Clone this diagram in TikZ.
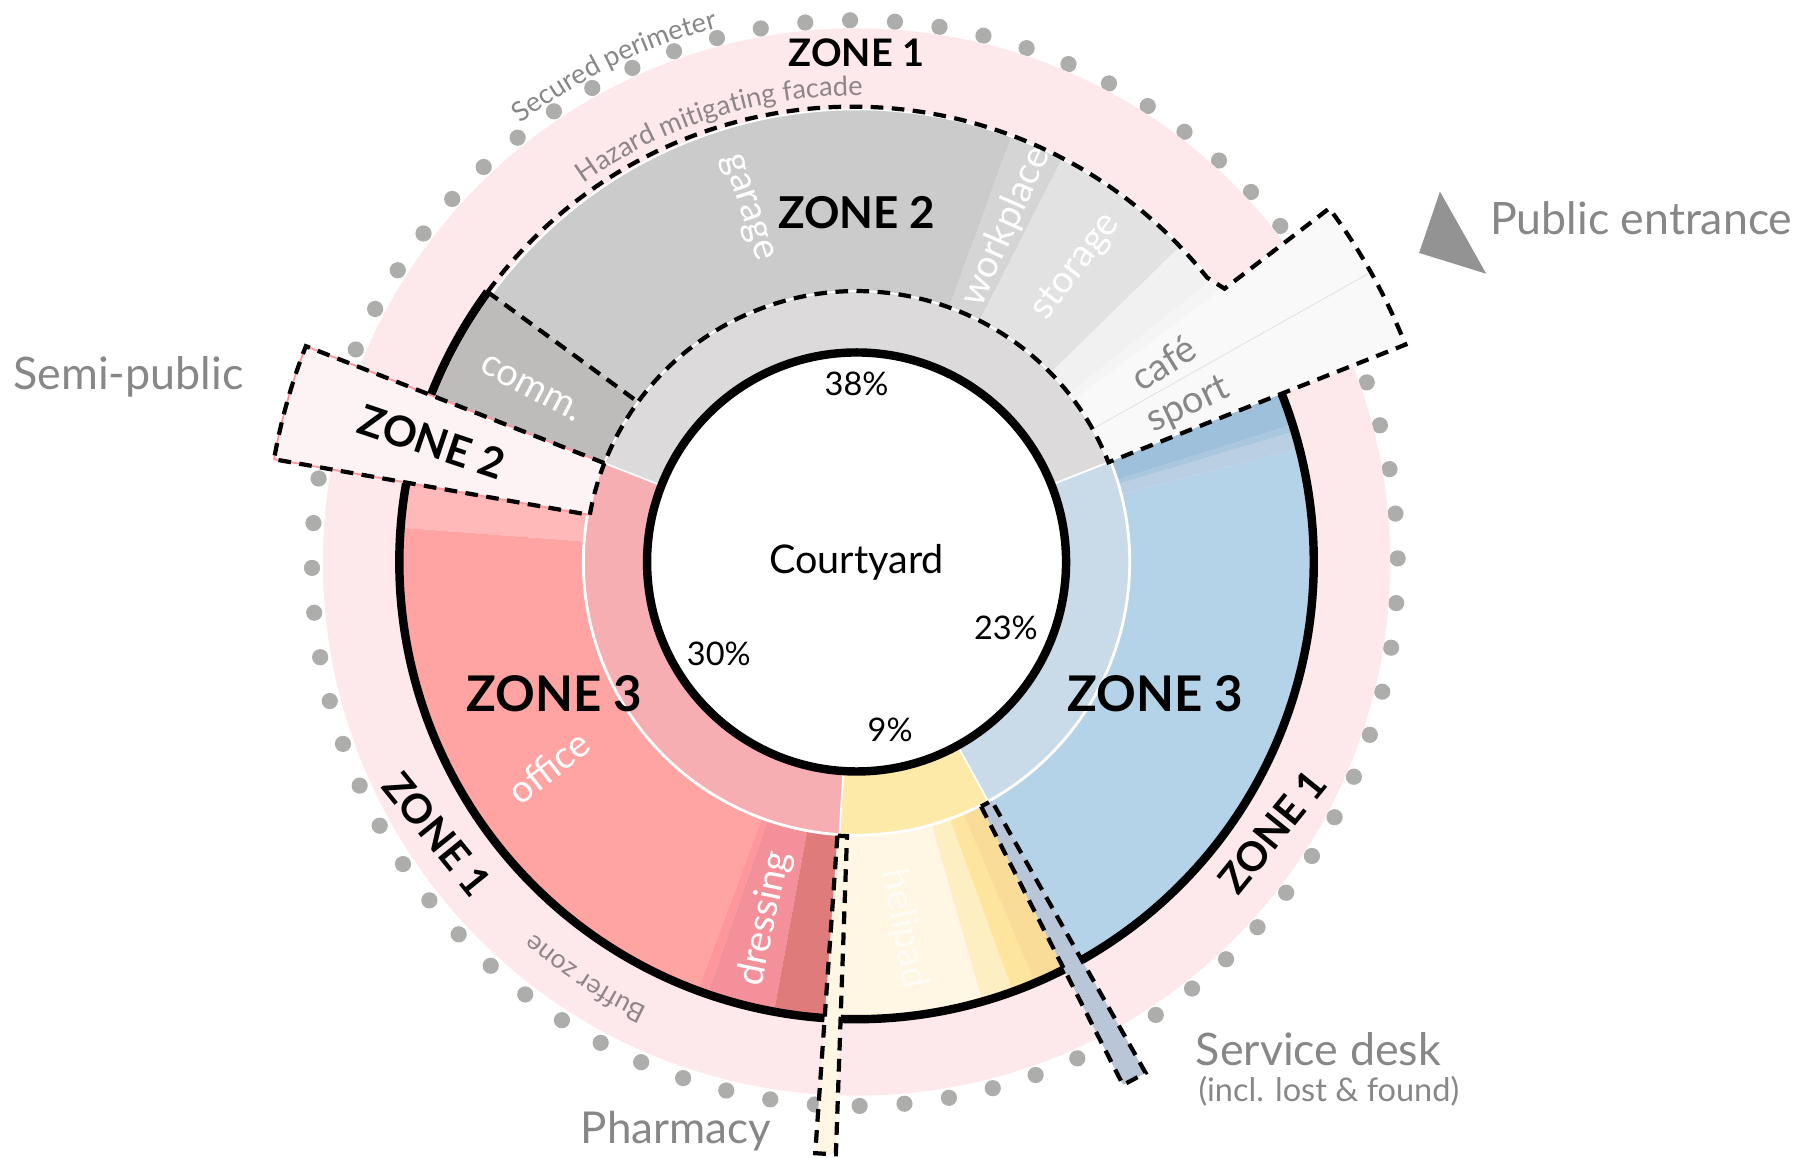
\documentclass[tikz,border=0pt]{standalone}
\usepackage{fontspec}
\setmainfont{Lato}
\usetikzlibrary{decorations.text}
\definecolor{bufferpink}{HTML}{FDE8EB}
\definecolor{dotgray}{HTML}{ADADAB}
\definecolor{labelgray}{HTML}{878787}
\definecolor{smallgray}{HTML}{8F8589}
\definecolor{ringgray}{HTML}{DCDADB}
\definecolor{ringpink}{HTML}{F6AEB3}
\definecolor{ringyellow}{HTML}{FDE9A8}
\definecolor{ringblue}{HTML}{C9DBE8}
\definecolor{garagegray}{HTML}{CBCBCB}
\definecolor{commgray}{HTML}{BDBCBB}
\definecolor{workgray}{HTML}{D5D5D5}
\definecolor{storegray}{HTML}{E2E2E2}
\definecolor{palegray}{HTML}{F1F1F1}
\definecolor{paleragray}{HTML}{F5F5F5}
\definecolor{publicwhite}{HTML}{F9F9F9}
\definecolor{officepink}{HTML}{FFA3A3}
\definecolor{lightpink}{HTML}{FFB9B9}
\definecolor{edgepink}{HTML}{FE979C}
\definecolor{dresspink}{HTML}{F49099}
\definecolor{darkpink}{HTML}{E07B7C}
\definecolor{semipink}{HTML}{FDF2F4}
\definecolor{helicream}{HTML}{FFF6E3}
\definecolor{heliA}{HTML}{FEEFC2}
\definecolor{heliB}{HTML}{FEE59E}
\definecolor{heliC}{HTML}{F8DC97}
\definecolor{bluemain}{HTML}{B5D3E8}
\definecolor{blueA}{HTML}{9FC0DA}
\definecolor{blueB}{HTML}{A9C8E0}
\definecolor{blueC}{HTML}{BBCFE3}
\definecolor{deskblue}{HTML}{B9C6D8}
\newcommand{\fs}[1]{\fontsize{#1}{#1}\selectfont}
\newcommand{\ringsector}[5]{\fill[#1] (#2:#4) arc[start angle=#2, end angle=#3, radius=#4] -- (#3:#5) arc[start angle=#3, end angle=#2, radius=#5] -- cycle;}
\tikzset{
  dashline/.style={draw=black, line width=2.4pt, dash pattern=on 7.2pt off 4.8pt},
  blackarc/.style={draw=black, line width=4.8pt},
  zonelabel/.style={font=\fs{#1}\bfseries, text=black, inner sep=0pt},
  roomlabel/.style={font=\fs{21.5}, text=white, inner sep=0pt},
  sidelabel/.style={font=\fs{#1}, text=labelgray, inner sep=0pt},
  pctlabel/.style={font=\fs{18.5}, text=black, inner sep=0pt}
}
\begin{document}
\begin{tikzpicture}[x=0.2315mm, y=0.2315mm]
  \useasboundingbox (-740, -514.9) rectangle (828, 485.5);

  % Perimeter
  \foreach \k in {0,...,75} {
    \fill[dotgray, shift={(-1.5, -1)}] (0.5+4.737*\k:469) circle[radius=7];
  }
  \fill[bufferpink] (0, 0) circle[radius=461];

  % Inner ring
  \ringsector{ringgray}{21.6}{158.6}{181}{235}
  \ringsector{ringpink}{158.6}{266.4}{181}{235}
  \ringsector{ringyellow}{266.4}{298.8}{181}{235}
  \ringsector{ringblue}{298.8}{381.6}{181}{235}

  % Zone 2 rooms
  \foreach \col/\a/\b in {commgray/143.8/158.6, garagegray/70/143.8, workgray/63/70, storegray/44.3/63, palegray/38.5/44.3, paleragray/36.8/38.5} {
    \ringsector{\col}{\a}{\b}{235}{391}
  }
  % Zone 3 rooms
  \foreach \col/\a/\b in {lightpink/170/175.7, officepink/175.7/249.7, edgepink/249.7/251, dresspink/251/259.6, darkpink/259.6/266.4, helicream/266.4/286, heliA/286/290, heliB/290/293, heliC/293/298.8, bluemain/298.8/374.4, blueC/374.4/376.6, blueB/376.6/377.5, blueA/377.5/381.6} {
    \ringsector{\col}{\a}{\b}{235}{395}
  }

  % Ring separators
  \draw[white, line width=1.6pt] (170:236) arc[start angle=170, end angle=381.6, radius=236];
  \foreach \a in {21.6, 158.6, 266.4, 298.8} {
    \draw[white, line width=1pt] (\a:181) -- (\a:236);
  }

  % Zone 3 outline
  \draw[blackarc] (143.8:395) arc[start angle=143.8, end angle=158.6, radius=395];
  \draw[blackarc] (170:395) arc[start angle=170, end angle=266, radius=395];
  \draw[blackarc] (268:395) arc[start angle=268, end angle=381.6, radius=395];

  % Public entrance
  \ringsector{publicwhite}{21.6}{36.8}{235}{510}
  \fill[publicwhite] (38.5:391) -- (36.6:396) -- (36.8:391) -- cycle;
  \draw[gray!25, line width=0.4pt] (29.4:235) -- (29.4:507);
  \draw[white, line width=1pt] (143.8:391) arc[start angle=143.8, end angle=38.5, radius=391];
  \draw[white, line width=1pt] (21.6:234) arc[start angle=21.6, end angle=158.6, radius=234];
  \draw[dashline] (143.8:395) arc[start angle=143.8, end angle=38.5, radius=391] -- (36.6:396) -- (36.8:510) arc[start angle=36.8, end angle=21.6, radius=510] -- (21.6:234) arc[start angle=21.6, end angle=158.6, radius=234];
  \draw[dashline] (143.8:395) -- (143.8:236);

  % Semi-public
  \ringsector{semipink}{158.6}{170}{234}{511}
  \draw[edgepink, line width=1pt] (158.6:234) -- (158.6:511) arc[start angle=158.6, end angle=170, radius=511] -- (170:234);
  \draw[dashline] (158.6:234) -- (158.6:511) arc[start angle=158.6, end angle=170, radius=511] -- (170:234) arc[start angle=170, end angle=158.6, radius=234] -- cycle;

  % Pharmacy and service desk
  \ringsector{helicream}{266}{268}{237}{512}
  \draw[dashline] (266:237) -- (266:512) arc[start angle=266, end angle=268, radius=512] -- (268:237) arc[start angle=268, end angle=266, radius=237] -- cycle;
  \ringsector{deskblue}{297}{299.5}{237}{507}
  \draw[dashline] (297:237) -- (297:507) arc[start angle=297, end angle=299.5, radius=507] -- (299.5:237) arc[start angle=299.5, end angle=297, radius=237] -- cycle;

  % Courtyard
  \draw[blackarc, fill=white] (0, 0) circle[radius=181];
  \node[font=\fs{22.5}, text=black, inner sep=0pt] (courtyard) at (0, 0) {Courtyard};
  \node[pctlabel] (pctgray) at (0, 154) {38\%};
  \node[pctlabel] (pctpink) at (-119, -79) {30\%};
  \node[pctlabel] (pctblue) at (129, -57) {23\%};
  \node[pctlabel] (pctyellow) at (29, -145) {9\%};

  % Zones
  \node[zonelabel=21.6] (zoneonetop) at (0, 440) {ZONE 1};
  \node[zonelabel=23, rotate=-51] (zoneoneleft) at (-362, -235) {ZONE 1};
  \node[zonelabel=23, rotate=51] (zoneoneright) at (359, -233) {ZONE 1};
  \node[zonelabel=25] (zonetwotop) at (0, 302) {ZONE 2};
  \node[zonelabel=24, rotate=-18.6] (zonetwosemi) at (-367, 104) {ZONE 2};
  \node[zonelabel=28] (zonethreepink) at (-261, -114) {ZONE 3};
  \node[zonelabel=28] (zonethreeblue) at (258, -114) {ZONE 3};

  % Rooms
  \node[roomlabel, rotate=-72] (garage) at (-95, 306) {garage};
  \node[roomlabel, rotate=66] (workplace) at (129, 290) {workplace};
  \node[roomlabel, rotate=53] (storage) at (190, 255) {storage};
  \node[roomlabel, rotate=-28] (comm) at (-281, 150) {comm.};
  \node[roomlabel, rotate=32, text=labelgray] (cafe) at (265, 172) {café};
  \node[roomlabel, rotate=25, text=labelgray] (sport) at (287, 135) {sport};
  \node[roomlabel, rotate=38] (office) at (-266, -177) {office};
  \node[roomlabel, rotate=78] (dressing) at (-79, -308) {dressing};
  \node[roomlabel, rotate=-79, text=white!70!helicream] (helipad) at (41, -317) {helipad};

  % Curved labels
  \path[decorate, decoration={text along path, text align=center, text={|\fs{15.5}\color{labelgray}|Secured perimeter}}] (128:477) arc[start angle=128, end angle=104, radius=477];
  \path[decorate, decoration={text along path, text align=center, text={|\fs{15.5}\color{smallgray}|Hazard mitigating facade}}] (127:403) arc[start angle=127, end angle=88, radius=403];
  \path[decorate, decoration={text along path, text align=center, text={|\fs{15}\color{smallgray}|Buffer zone}}] (246:425) arc[start angle=246, end angle=228, radius=425];

  % Outside labels
  \fill[labelgray!90] (504, 320) -- (486, 267) -- (544, 249) -- cycle;
  \node[sidelabel=25.4] (publicentrance) at (678, 297) {Public entrance};
  \node[sidelabel=25.5] (semipublic) at (-629, 160) {Semi-public};
  \node[sidelabel=25] (pharmacy) at (-156, -492) {Pharmacy};
  \node[sidelabel=25.5] (servicedesk) at (399, -421) {Service desk};
  \node[sidelabel=18.5] (lostfound) at (408, -457) {(incl. lost \& found)};
\end{tikzpicture}
\end{document}
